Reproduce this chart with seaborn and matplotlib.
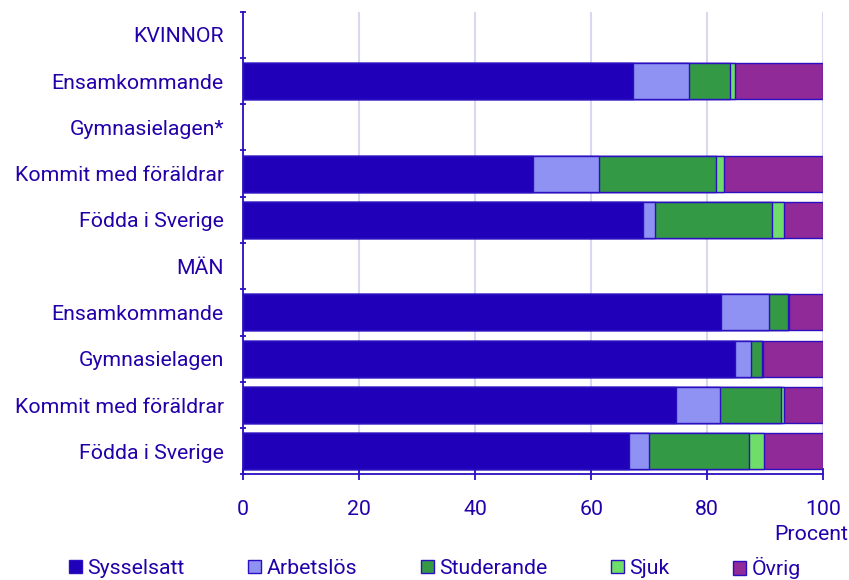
import numpy as np
import pandas as pd
import matplotlib
matplotlib.use("Agg")
import matplotlib.pyplot as plt
import seaborn as sns
from matplotlib.patches import Patch

sns.set_theme(style="white")
plt.rcParams['font.family'] = ['Roboto', 'DejaVu Sans']

# Rows top to bottom; header rows carry no data
row_labels = ['KVINNOR', 'Ensamkommande', 'Gymnasielagen*', 'Kommit med föräldrar',
              'Födda i Sverige', 'MÄN', 'Ensamkommande', 'Gymnasielagen',
              'Kommit med föräldrar', 'Födda i Sverige']
nan = np.nan
sysselsatt = [nan, 67.3, nan, 50.0, 68.9, nan, 82.4, 84.8, 74.6, 66.5]
arbetslos  = [nan, 9.5,  nan, 11.3, 2.1,  nan, 8.2,  2.8,  7.6,  3.4]
studerande = [nan, 7.1,  nan, 20.3, 20.2, nan, 3.4,  1.9,  10.5, 17.3]
sjuk       = [nan, 0.9,  nan, 1.3,  2.1,  nan, 0.2,  0.2,  0.5,  2.6]
ovrig      = [nan, 15.2, nan, 17.1, 6.7,  nan, 5.8,  10.3, 6.8,  10.2]

series_names = ['Sysselsatt', 'Arbetslös', 'Studerande', 'Sjuk', 'Övrig']
colors = ['#2000B8', '#8F92F2', '#339944', '#6EDD6A', '#902A98']
text_col = '#2200AA'
edge_col = '#2A10C0'
fs = 15.3

keys = [str(i) for i in range(len(row_labels))]
df = pd.DataFrame({'row': keys, 'Sysselsatt': sysselsatt, 'Arbetslös': arbetslos,
                   'Studerande': studerande, 'Sjuk': sjuk, 'Övrig': ovrig})
cum = df[series_names].cumsum(axis=1)

fig = plt.figure(figsize=(8.49, 5.80), dpi=100)
ax = fig.add_axes([0.2865, 0.182, 0.683, 0.798])

# draw cumulative totals, longest first, so each segment shows on top
for name, col in reversed(list(zip(series_names, colors))):
    sns.barplot(data=cum.assign(row=keys), x=name, y='row', order=keys, orient='h',
                color=col, edgecolor=edge_col, linewidth=1.0, width=0.78,
                saturation=1, ax=ax, zorder=3)

ax.set_xlim(0, 100)
ax.set_ylim(len(keys) - 0.5, -0.5)
ax.set_xticks([0, 20, 40, 60, 80, 100])
ax.set_yticks(range(len(keys)))
ax.set_yticklabels(row_labels)
ax.set_yticks(np.arange(-0.5, len(keys), 1), minor=True)
ax.set_xlabel('')
ax.set_ylabel('')

ax.grid(axis='x', color='#D8D8F0', linewidth=1.5, zorder=0)
ax.set_axisbelow(True)
for s in ['top', 'right']:
    ax.spines[s].set_visible(False)
for s in ['left', 'bottom']:
    ax.spines[s].set_color(edge_col)
    ax.spines[s].set_linewidth(1.3)

ax.tick_params(axis='y', which='major', length=0, pad=14, labelsize=fs, labelcolor=text_col)
ax.tick_params(axis='y', which='minor', left=True, length=4, width=1.3, color=edge_col, direction='inout')
ax.tick_params(axis='x', which='major', bottom=True, length=9, width=1.3, color=edge_col,
               direction='inout', pad=14, labelsize=fs, labelcolor=text_col)

fig.text(0.999, 0.079, 'Procent', ha='right', va='center', fontsize=fs, color=text_col)

# legend entries at fixed positions along the bottom (marker left edge, px)
legend_px = [71, 250, 423, 613, 735]
for name, col, px in zip(series_names, colors, legend_px):
    fig.legend([Patch(facecolor=col, edgecolor=edge_col, linewidth=1.0)], [name],
               loc='center left', bbox_to_anchor=(px / 849 - 0.002, 0.02), frameon=False,
               fontsize=fs, labelcolor=text_col, handlelength=0.6, handleheight=0.6,
               handletextpad=0.25, borderpad=0, borderaxespad=0)

fig.savefig('out.png', dpi=100)
